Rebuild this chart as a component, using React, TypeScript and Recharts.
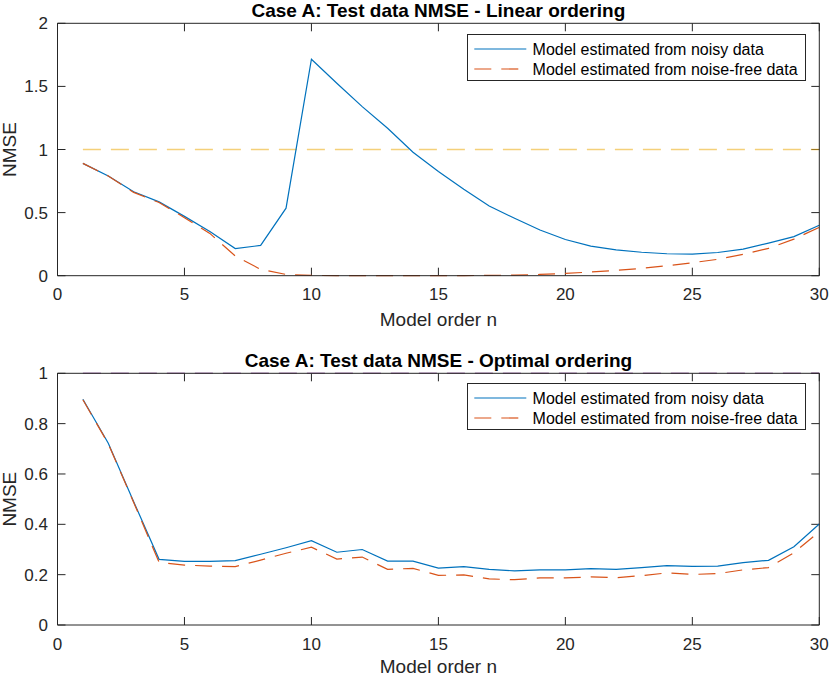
import { LineChart, Line, XAxis, YAxis, ReferenceLine, Legend } from 'recharts'

const orders = [1, 2, 3, 4, 5, 6, 7, 8, 9, 10, 11, 12, 13, 14, 15, 16, 17, 18, 19, 20, 21, 22, 23, 24, 25, 26, 27, 28, 29, 30]

// linear ordering
const linearNoisy = [0.89, 0.79, 0.665, 0.585, 0.47, 0.35, 0.215, 0.24, 0.535, 1.715, 1.525, 1.34, 1.168, 0.978, 0.825, 0.685, 0.552, 0.455, 0.362, 0.287, 0.235, 0.205, 0.186, 0.174, 0.171, 0.184, 0.21, 0.258, 0.31, 0.4]
const linearFree = [0.89, 0.79, 0.66, 0.58, 0.46, 0.335, 0.156, 0.05, 0.01, 0.002, 0.001, 0.0005, 0.0005, 0.0005, 0.0008, 0.001, 0.002, 0.005, 0.01, 0.018, 0.029, 0.042, 0.058, 0.079, 0.103, 0.13, 0.169, 0.217, 0.29, 0.383]

// optimal ordering
const optimalNoisy = [0.897, 0.722, 0.49, 0.261, 0.253, 0.253, 0.256, 0.281, 0.307, 0.335, 0.289, 0.3, 0.254, 0.254, 0.226, 0.232, 0.221, 0.215, 0.219, 0.219, 0.224, 0.221, 0.228, 0.236, 0.233, 0.234, 0.248, 0.257, 0.311, 0.401]
const optimalFree = [0.895, 0.72, 0.487, 0.249, 0.238, 0.234, 0.232, 0.258, 0.285, 0.309, 0.262, 0.27, 0.221, 0.225, 0.197, 0.199, 0.183, 0.18, 0.187, 0.187, 0.191, 0.188, 0.196, 0.207, 0.201, 0.204, 0.219, 0.228, 0.287, 0.371]

const xTicks = [0, 5, 10, 15, 20, 25, 30]
const linearYTicks = [0, 0.5, 1, 1.5, 2]
const optimalYTicks = [0, 0.2, 0.4, 0.6, 0.8, 1]
const baselineLevel = 1

const FONT = '"Liberation Sans", Arial, Helvetica, sans-serif'
const AXIS = '#262626'
const TICK_LEN = 8
const CHART_W = 830
const CHART_H = 338
const Y_AXIS_W = 57.5
const RIGHT_PAD = 10.7
const series = [
  { key: 'noisy', name: 'Model estimated from noisy data', color: '#0072BD', dash: undefined },
  { key: 'free', name: 'Model estimated from noise-free data', color: '#D95319', dash: '17 10' },
]

function LegendBox() {
  return (
    <svg width={340} height={48} style={{ display: 'block', fontFamily: FONT }}>
      <rect x={0.5} y={0.5} width={338} height={46} fill="#fff" stroke={AXIS} strokeWidth={1} />
      {series.map((s, i) => (
        <g key={s.key}>
          <line x1={7.3} x2={59.3} y1={15 + i * 20} y2={15 + i * 20} stroke={s.color} strokeWidth={1.2} strokeDasharray={s.dash} />
          <text x={65.6} y={20.7 + i * 20} fontSize={16} fill="#000">{s.name}</text>
        </g>
      ))}
    </svg>
  )
}

interface PanelProps {
  title: string
  noisy: number[]
  free: number[]
  yTicks: number[]
  refColor: string
  refOpacity: number
  top: number
  xHeight: number
  xLabelOffset: number
  legendTop: number
}

function Panel({ title, noisy, free, yTicks, refColor, refOpacity, top, xHeight, xLabelOffset, legendTop }: PanelProps) {
  const data = orders.map((n, i) => ({ n, noisy: noisy[i], free: free[i] }))
  const yMax = yTicks[yTicks.length - 1]
  const xMax = xTicks[xTicks.length - 1]
  const xDomain: [number, number] = [0, xMax]
  const yDomain: [number, number] = [0, yMax]
  const tickStyle = { fontSize: 17, fill: AXIS, fontFamily: FONT }

  // inward tick length, expressed in data units of each axis
  const plotH = CHART_H - top - xHeight
  const plotW = CHART_W - Y_AXIS_W - RIGHT_PAD
  const xTickLen = (TICK_LEN / plotH) * yMax
  const yTickLen = (TICK_LEN / plotW) * xMax

  return (
    <LineChart
      width={CHART_W}
      height={CHART_H}
      data={data}
      margin={{ top, right: RIGHT_PAD, left: 0, bottom: 0 }}
      style={{ fontFamily: FONT }}
    >
      <XAxis
        dataKey="n"
        type="number"
        domain={xDomain}
        ticks={xTicks}
        interval={0}
        height={xHeight}
        tickLine={false}
        tickSize={0}
        tickMargin={12.5}
        tick={tickStyle}
        axisLine={{ stroke: AXIS }}
        label={{ value: 'Model order n', position: 'insideBottom', offset: xLabelOffset, fontSize: 19, fill: AXIS, fontFamily: FONT }}
      />
      <YAxis
        type="number"
        domain={yDomain}
        ticks={yTicks}
        interval={0}
        width={Y_AXIS_W}
        tickLine={false}
        tickSize={0}
        tickMargin={9.5}
        tick={tickStyle}
        axisLine={{ stroke: AXIS }}
        label={{ value: 'NMSE', angle: -90, position: 'insideLeft', offset: 9.5, fontSize: 19, fill: AXIS, fontFamily: FONT, style: { textAnchor: 'middle' } }}
      />

      {/* mirrored top/right axes close the box and carry the title */}
      <XAxis xAxisId="tt" orientation="top" mirror dataKey="n" type="number" domain={xDomain} allowDataOverflow
        ticks={xTicks} interval={0} height={8} tickSize={0} tick={false} axisLine={{ stroke: AXIS }} tickLine={false}
        label={{ value: title, position: 'top', offset: 6, fontSize: 19, fontWeight: 700, fill: '#000', fontFamily: FONT }} />
      <YAxis yAxisId="rt" orientation="right" mirror type="number" domain={yDomain} allowDataOverflow
        ticks={yTicks} interval={0} width={8} tickSize={0} tick={false} axisLine={{ stroke: AXIS }} tickLine={false} />
      <Line xAxisId="tt" yAxisId="rt" dataKey="noisy" stroke="none" dot={false} activeDot={false} legendType="none" isAnimationActive={false} />

      {/* inward tick marks on all four sides */}
      {xTicks.map(t => (
        <ReferenceLine key={`xb${t}`} segment={[{ x: t, y: 0 }, { x: t, y: xTickLen }]} stroke={AXIS} strokeWidth={1} ifOverflow="visible" />
      ))}
      {xTicks.map(t => (
        <ReferenceLine key={`xt${t}`} segment={[{ x: t, y: yMax }, { x: t, y: yMax - xTickLen }]} stroke={AXIS} strokeWidth={1} ifOverflow="visible" />
      ))}
      {yTicks.map(v => (
        <ReferenceLine key={`yl${v}`} segment={[{ x: 0, y: v }, { x: yTickLen, y: v }]} stroke={AXIS} strokeWidth={1} ifOverflow="visible" />
      ))}
      {yTicks.map(v => (
        <ReferenceLine key={`yr${v}`} segment={[{ x: xMax, y: v }, { x: xMax - yTickLen, y: v }]} stroke={AXIS} strokeWidth={1} ifOverflow="visible" />
      ))}

      <ReferenceLine
        segment={[{ x: orders[0], y: baselineLevel }, { x: orders[orders.length - 1], y: baselineLevel }]}
        stroke={refColor}
        strokeOpacity={refOpacity}
        strokeWidth={1.4}
        strokeDasharray="18 10"
        ifOverflow="visible"
      />
      {series.map(s => (
        <Line
          key={s.key}
          type="linear"
          dataKey={s.key}
          name={s.name}
          stroke={s.color}
          strokeWidth={1.2}
          strokeDasharray={s.dash}
          dot={false}
          activeDot={false}
          isAnimationActive={false}
        />
      ))}
      <Legend
        layout="horizontal"
        verticalAlign="middle"
        align="center"
        wrapperStyle={{ left: 466.7, top: legendTop, width: 340, height: 48 }}
        content={() => <LegendBox />}
      />
    </LineChart>
  )
}

export default function App() {
  return (
    <div style={{ position: 'absolute', left: 0, top: 0, width: 830, height: 676, background: '#fff' }}>
      <div style={{ position: 'absolute', left: 0, top: 0 }}>
        <Panel
          title="Case A: Test data NMSE - Linear ordering"
          noisy={linearNoisy}
          free={linearFree}
          yTicks={linearYTicks}
          refColor="#EDB120"
          refOpacity={0.6}
          top={23.3}
          xHeight={62.3}
          xLabelOffset={11.8}
          legendTop={34}
        />
      </div>
      <div style={{ position: 'absolute', left: 0, top: 338 }}>
        <Panel
          title="Case A: Test data NMSE - Optimal ordering"
          noisy={optimalNoisy}
          free={optimalFree}
          yTicks={optimalYTicks}
          refColor="#7E2F8E"
          refOpacity={0.6}
          top={35.3}
          xHeight={51}
          xLabelOffset={3}
          legendTop={45.3}
        />
      </div>
    </div>
  )
}
